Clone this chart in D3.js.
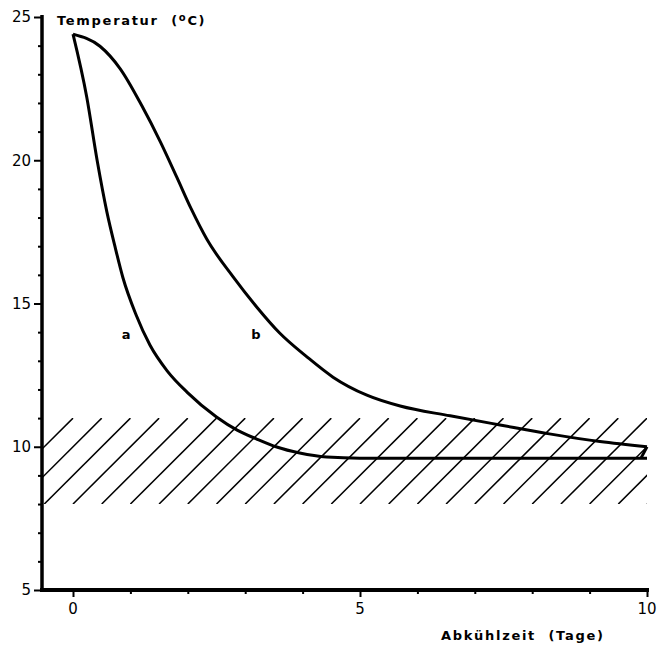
<!DOCTYPE html>
<html lang="de">
<head>
<meta charset="UTF-8">
<title>Abkühlzeit</title>
<script src="https://d3js.org/d3.v7.min.js"></script>
<style>
    body { margin: 0; background: #fff; }
    text { font-family: "DejaVu Sans", sans-serif; fill: #000; }
    .lab { font-weight: bold; font-size: 13px; letter-spacing: 1.7px; }
    .tick-num { font-size: 15px; }
</style>
</head>
<body>
<div id="chart"></div>
<script>
// curve a: [Tage, °C]
const curveA = [
    [0, 24.4], [0.24, 22.2], [0.42, 20.0], [0.59, 18.2], [0.73, 17.0], [0.87, 15.9],
    [1.1, 14.6], [1.34, 13.55], [1.64, 12.65], [1.99, 11.9], [2.5, 11.04],
    [2.86, 10.58], [3.2, 10.27], [3.55, 9.99], [3.95, 9.78], [4.42, 9.64], [5, 9.6],
    [7.5, 9.6], [10, 9.6]
];
// curve b
const curveB = [
    [0, 24.4], [0.47, 23.98], [0.82, 23.2], [1.2, 21.9], [1.52, 20.65], [1.81, 19.4],
    [2.06, 18.3], [2.33, 17.25], [2.79, 15.93], [3.2, 14.88], [3.6, 13.97], [4.08, 13.13],
    [4.53, 12.43], [5.12, 11.8], [5.7, 11.42], [6.57, 11.08], [7.44, 10.76], [8.3, 10.45],
    [9.18, 10.18], [10, 10.0]
];
const curveBEnd = [[10, 10.0], [9.9, 9.62]];
const curveLabels = [["a", 0.94, 13.75], ["b", 3.2, 13.75]];
const hatchBand = [8, 11];      // °C
const xTicks = [0, 5, 10];
const yTicks = [5, 10, 15, 20, 25];

const width = 659, height = 656;
const svg = d3.select("#chart").append("svg")
    .attr("width", width).attr("height", height);

const x = d3.scaleLinear().domain([0, 10]).range([73, 647]);
const y = d3.scaleLinear().domain([5, 25]).range([590, 17]);
const xLeft = x.invert(42);

// hatched band
svg.append("clipPath").attr("id", "band")
    .append("rect")
    .attr("x", x(xLeft)).attr("y", y(hatchBand[1]))
    .attr("width", x(10) - x(xLeft)).attr("height", y(hatchBand[0]) - y(hatchBand[1]));

const rise = (hatchBand[1] - hatchBand[0]) / 2;   // 45° in pixels
svg.append("g").attr("clip-path", "url(#band)")
    .selectAll("line").data(d3.range(-1.5, 10.01, 0.5)).join("line")
    .attr("x1", d => x(d)).attr("y1", y(hatchBand[0]))
    .attr("x2", d => x(d + rise)).attr("y2", y(hatchBand[1]))
    .attr("stroke", "#000").attr("stroke-width", 1.5);

// curves
const smooth = d3.line()
    .x(d => x(d[0])).y(d => y(d[1]))
    .curve(d3.curveMonotoneX);
const straight = d3.line().x(d => x(d[0])).y(d => y(d[1]));

[[curveA, smooth], [curveB, smooth], [curveBEnd, straight]].forEach(([c, gen]) => {
    svg.append("path").datum(c)
        .attr("fill", "none").attr("stroke", "#000")
        .attr("stroke-width", 3).attr("stroke-linejoin", "round")
        .attr("d", gen);
});

svg.selectAll(".curve-lab").data(curveLabels).join("text")
    .attr("class", "lab")
    .attr("x", d => x(d[1])).attr("y", d => y(d[2]))
    .attr("text-anchor", "middle")
    .text(d => d[0]);

// y axis
const yAxis = svg.append("g").attr("transform", "translate(42,0)");
yAxis.call(d3.axisLeft(y).tickValues(d3.range(5, 26, 1)).tickSize(4).tickFormat(""));
yAxis.selectAll(".tick line").filter(d => yTicks.includes(d)).attr("x2", -8);
yAxis.selectAll(".tick line").attr("stroke-width", 2);
yAxis.select(".domain").attr("d", `M0,${y(25) - 2}V${y(5) + 2}`).attr("stroke-width", 3.5);
yAxis.selectAll(".tick-num").data(yTicks).join("text")
    .attr("class", "tick-num")
    .attr("x", -11).attr("y", d => y(d)).attr("dy", "0.36em")
    .attr("text-anchor", "end").text(d => d);

// x axis
const xAxis = svg.append("g").attr("transform", "translate(0,590)");
xAxis.call(d3.axisBottom(x).tickValues(d3.range(0, 11, 1)).tickSize(4).tickFormat(""));
xAxis.selectAll(".tick line").filter(d => xTicks.includes(d)).attr("y2", 7);
xAxis.selectAll(".tick line").attr("stroke-width", 2);
xAxis.select(".domain").attr("d", `M40,0H${x(10) + 2}`).attr("stroke-width", 4);
xAxis.selectAll(".tick-num").data(xTicks).join("text")
    .attr("class", "tick-num")
    .attr("x", d => x(d)).attr("y", 24)
    .attr("text-anchor", "middle").text(d => d);

// axis titles
svg.append("text").attr("class", "lab")
    .attr("x", 57).attr("y", 25)
    .html('Temperatur&#160;&#160;(<tspan dy="-4" font-size="10">o</tspan><tspan dy="4">C)</tspan>');
svg.append("text").attr("class", "lab")
    .attr("x", 441).attr("y", 640)
    .text("Abkühlzeit\u00a0\u00a0(Tage)");
</script>
</body>
</html>
